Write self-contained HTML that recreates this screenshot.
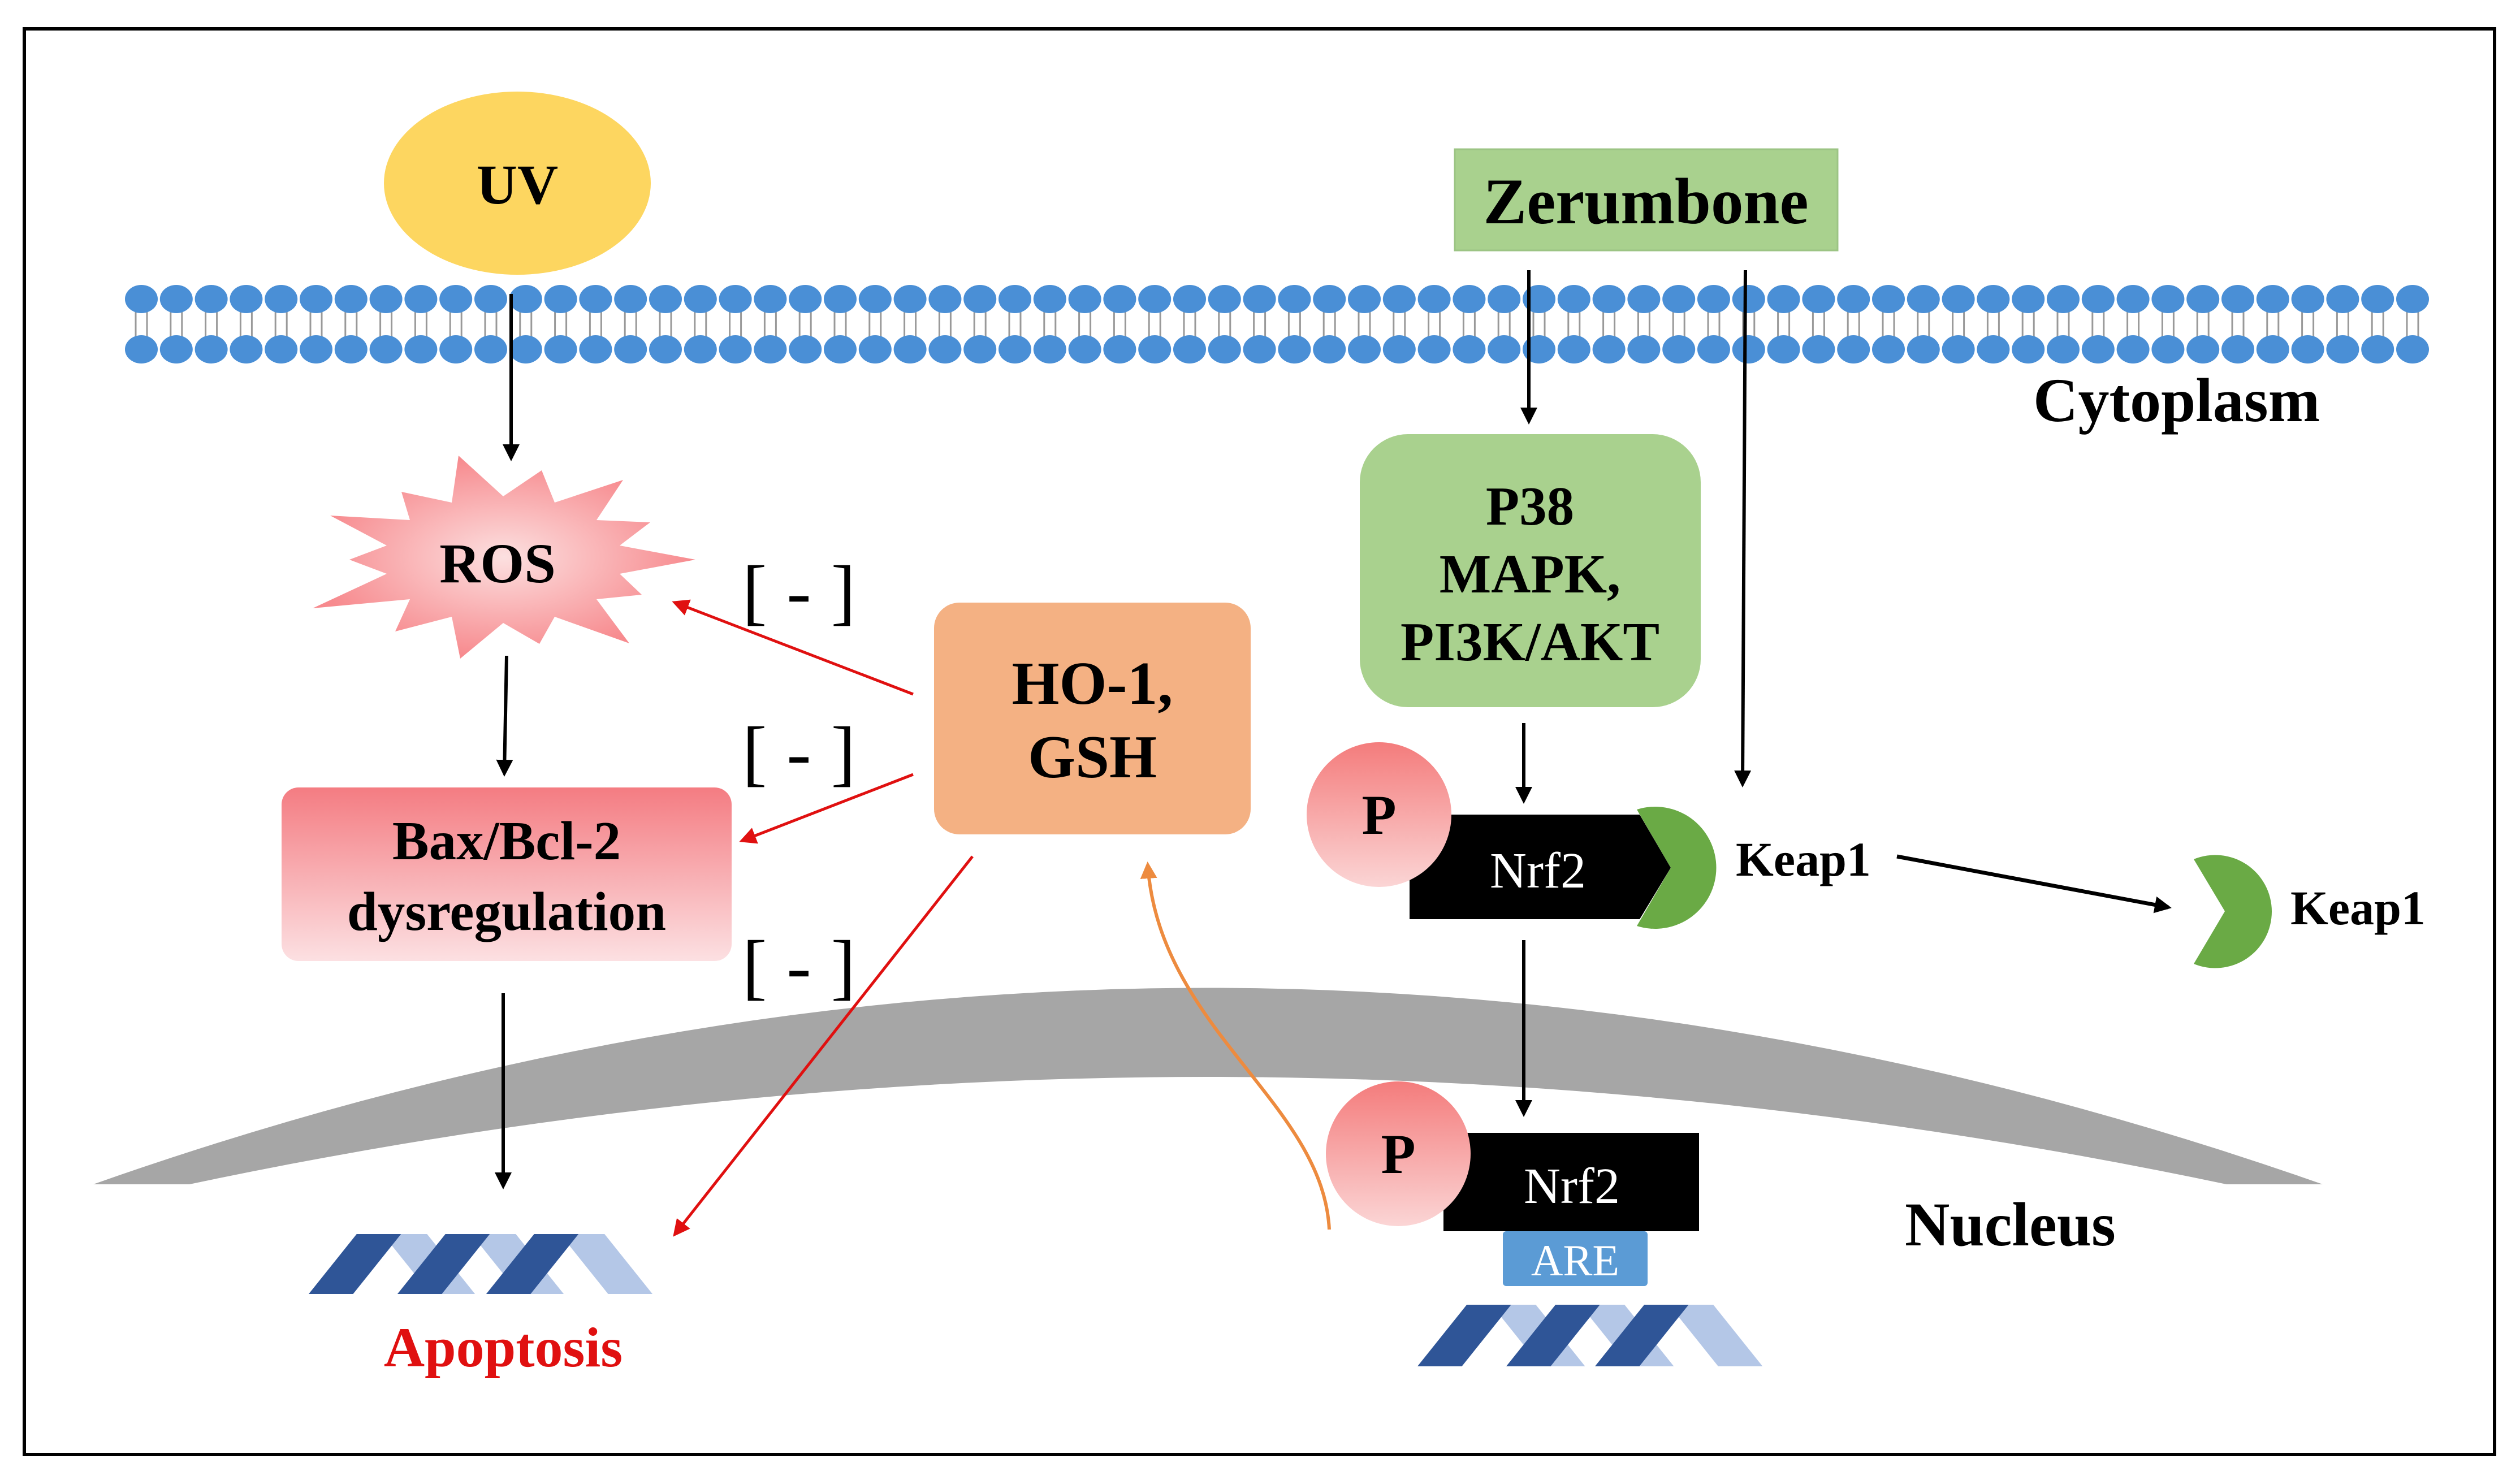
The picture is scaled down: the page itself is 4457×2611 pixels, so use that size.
<!DOCTYPE html>
<html><head><meta charset="utf-8"><style>
html,body{margin:0;padding:0;background:#fff}
svg{display:block}
text{font-family:"Liberation Serif",serif;font-weight:bold}
text.n{font-weight:normal}
</style></head><body>
<svg id="s" width="4457" height="2611" viewBox="0 0 4457 2611" xmlns="http://www.w3.org/2000/svg">
<defs>
<marker id="ar" viewBox="0 0 10 10" refX="8" refY="5" markerWidth="30" markerHeight="30" orient="auto" markerUnits="userSpaceOnUse"><path d="M0,0 L10,5 L0,10 z" fill="#e01010"/></marker>
<marker id="ak" viewBox="0 0 10 10" refX="8" refY="5" markerWidth="30" markerHeight="30" orient="auto" markerUnits="userSpaceOnUse"><path d="M0,0 L10,5 L0,10 z" fill="#000"/></marker>
<marker id="ao" viewBox="0 0 10 10" refX="8" refY="5" markerWidth="30" markerHeight="30" orient="auto" markerUnits="userSpaceOnUse"><path d="M0,0 L10,5 L0,10 z" fill="#ED8B3F"/></marker>
<linearGradient id="gp" x1="0" y1="0" x2="0" y2="1"><stop offset="0" stop-color="#F47C7C"/><stop offset="1" stop-color="#FBD5D5"/></linearGradient>
<linearGradient id="gb" x1="0" y1="0" x2="0" y2="1"><stop offset="0" stop-color="#F47C82"/><stop offset="1" stop-color="#FCE0E2"/></linearGradient>
<radialGradient id="gr"><stop offset="0" stop-color="#FCE0E0"/><stop offset="1" stop-color="#F78A8E"/></radialGradient>
</defs>
<rect x="43" y="51" width="4369" height="2522" fill="#fff" stroke="#000" stroke-width="6"/>
<g id="mem"></g>
<path d="M165,2095 Q2132,1400 4108,2095 L3938,2095 Q2132,1715 335,2095 Z" fill="#A6A6A6"/>
<ellipse cx="915" cy="324" rx="236" ry="162" fill="#FDD660"/>
<text x="915" y="360" font-size="100" text-anchor="middle">UV</text>
<rect x="2573" y="264" width="677" height="179" fill="#A9D18E" stroke="#9cc484" stroke-width="3"/>
<text x="2911" y="395" font-size="115" text-anchor="middle">Zerumbone</text>
<text x="3596" y="745" font-size="110">Cytoplasm</text>
<polygon id="ros" fill="url(#gr)"/>
<text x="880" y="1030" font-size="100" text-anchor="middle">ROS</text>
<rect x="498" y="1393" width="796" height="307" rx="30" fill="url(#gb)"/>
<text x="896" y="1520" font-size="97" text-anchor="middle">Bax/Bcl-2</text>
<text x="896" y="1645" font-size="97" text-anchor="middle">dysregulation</text>
<rect x="1652" y="1066" width="560" height="410" rx="45" fill="#F4B183"/>
<text x="1932" y="1245" font-size="108" text-anchor="middle">HO-1,</text>
<text x="1932" y="1375" font-size="108" text-anchor="middle">GSH</text>
<rect x="2405" y="768" width="603" height="483" rx="85" fill="#A9D18E"/>
<text x="2706" y="928" font-size="97" text-anchor="middle">P38</text>
<text x="2706" y="1048" font-size="97" text-anchor="middle">MAPK,</text>
<text x="2706" y="1168" font-size="97" text-anchor="middle">PI3K/AKT</text>
<path d="M2493,1441 L2900,1441 L2955,1535 L2900,1626 L2493,1626 Z" fill="#000"/>
<path d="M2895,1432 A108,108 0 1 1 2895,1638 L2955,1535 Z" fill="#6AAA45"/>
<circle cx="2439" cy="1441" r="128" fill="url(#gp)"/>
<text x="2439" y="1475" font-size="100" text-anchor="middle">P</text>
<text class="n" x="2720" y="1570" font-size="90" fill="#fff" text-anchor="middle">Nrf2</text>
<text x="3070" y="1549" font-size="86">Keap1</text>
<line x1="3355" y1="1515" x2="3835" y2="1605" stroke="#000" stroke-width="7" marker-end="url(#ak)"/>
<path d="M3880,1520 A100,100 0 1 1 3880,1705 L3935,1612 Z" fill="#6AAA45"/>
<text x="4051" y="1635" font-size="86">Keap1</text>
<rect x="2553" y="2004" width="452" height="174" fill="#000"/>
<circle cx="2473" cy="2041" r="128" fill="url(#gp)"/>
<text x="2473" y="2075" font-size="100" text-anchor="middle">P</text>
<text class="n" x="2780" y="2128" font-size="90" fill="#fff" text-anchor="middle">Nrf2</text>
<rect x="2658" y="2178" width="256" height="97" rx="6" fill="#5B9BD5"/>
<text class="n" x="2786" y="2256" font-size="78" fill="#fff" text-anchor="middle">ARE</text>
<g id="dna2"></g><g id="dna1"></g>
<text x="3369" y="2203" font-size="110">Nucleus</text>
<text x="890" y="2417" font-size="100" fill="#e01010" text-anchor="middle">Apoptosis</text>
<text class="n" font-size="130" x="1313" y="1090" textLength="200" lengthAdjust="spacing">[ - ]</text>
<text class="n" font-size="130" x="1313" y="1375" textLength="200" lengthAdjust="spacing">[ - ]</text>
<text class="n" font-size="130" x="1313" y="1753" textLength="200" lengthAdjust="spacing">[ - ]</text>
<g stroke="#000" stroke-width="6" fill="none" marker-end="url(#ak)">
<line x1="904" y1="520" x2="904" y2="810"/>
<line x1="896" y1="1160" x2="892" y2="1368"/>
<line x1="890" y1="1757" x2="890" y2="2098"/>
<line x1="2704" y1="478" x2="2704" y2="745"/>
<line x1="3087" y1="478" x2="3082" y2="1387"/>
<line x1="2695" y1="1279" x2="2695" y2="1416"/>
<line x1="2695" y1="1663" x2="2695" y2="1970"/>
</g>
<g stroke="#e01010" stroke-width="5" fill="none" marker-end="url(#ar)">
<line x1="1615" y1="1228" x2="1194" y2="1066"/>
<line x1="1615" y1="1370" x2="1313" y2="1487"/>
<line x1="1720" y1="1515" x2="1194" y2="2183"/>
</g>
<path d="M2351,2175 C2340,1950 2050,1820 2030,1530" stroke="#ED8B3F" stroke-width="6" fill="none" marker-end="url(#ao)"/>
</svg>
<script>
var NS="http://www.w3.org/2000/svg";
function el(p,t,a){var e=document.createElementNS(NS,t);for(var k in a)e.setAttribute(k,a[k]);p.appendChild(e);return e;}
var m=document.getElementById("mem");
for(var x=250;x<=4268;x+=61.8){
 el(m,"line",{x1:x-10,y1:545,x2:x-10,y2:600,stroke:"#999","stroke-width":3});
 el(m,"line",{x1:x+10,y1:545,x2:x+10,y2:600,stroke:"#999","stroke-width":3});
 el(m,"ellipse",{cx:x,cy:529,rx:29,ry:25,fill:"#4A8FD6"});
 el(m,"ellipse",{cx:x,cy:618,rx:29,ry:25,fill:"#4A8FD6"});
}
var pts=[],n=14,cx=890,cy=990;
var rs=[1,0.8,1.05,0.85,1,0.9,1.1,0.8,1,0.85,1.05,0.9,1,0.85];
for(var i=0;i<n*2;i++){var a=Math.PI*i/n;var r=(i%2==0)?rs[(i/2)|0]:0.62;
 pts.push((cx+Math.cos(a)*340*r).toFixed(0)+","+(cy+Math.sin(a)*180*r).toFixed(0));}
document.getElementById("ros").setAttribute("points",pts.join(" "));
function dna(g,x0,y0,w,h){
 var s=h*0.8,bw=w*0.12,step=w*0.24;
 for(var k=0;k<3;k++){var bx=x0+w*0.2+k*step;
  el(g,"polygon",{points:(bx)+","+y0+" "+(bx+bw)+","+y0+" "+(bx+bw+s)+","+(y0+h)+" "+(bx+s)+","+(y0+h),fill:"#B4C7E7"});}
 for(var k=0;k<3;k++){var bx=x0+k*step;
  el(g,"polygon",{points:(bx+s)+","+y0+" "+(bx+s+bw)+","+y0+" "+(bx+bw)+","+(y0+h)+" "+(bx)+","+(y0+h),fill:"#2F5597"});}
}
dna(document.getElementById("dna1"),546,2183,654,106);
dna(document.getElementById("dna2"),2507,2308,654,109);
</script>
</body></html>
